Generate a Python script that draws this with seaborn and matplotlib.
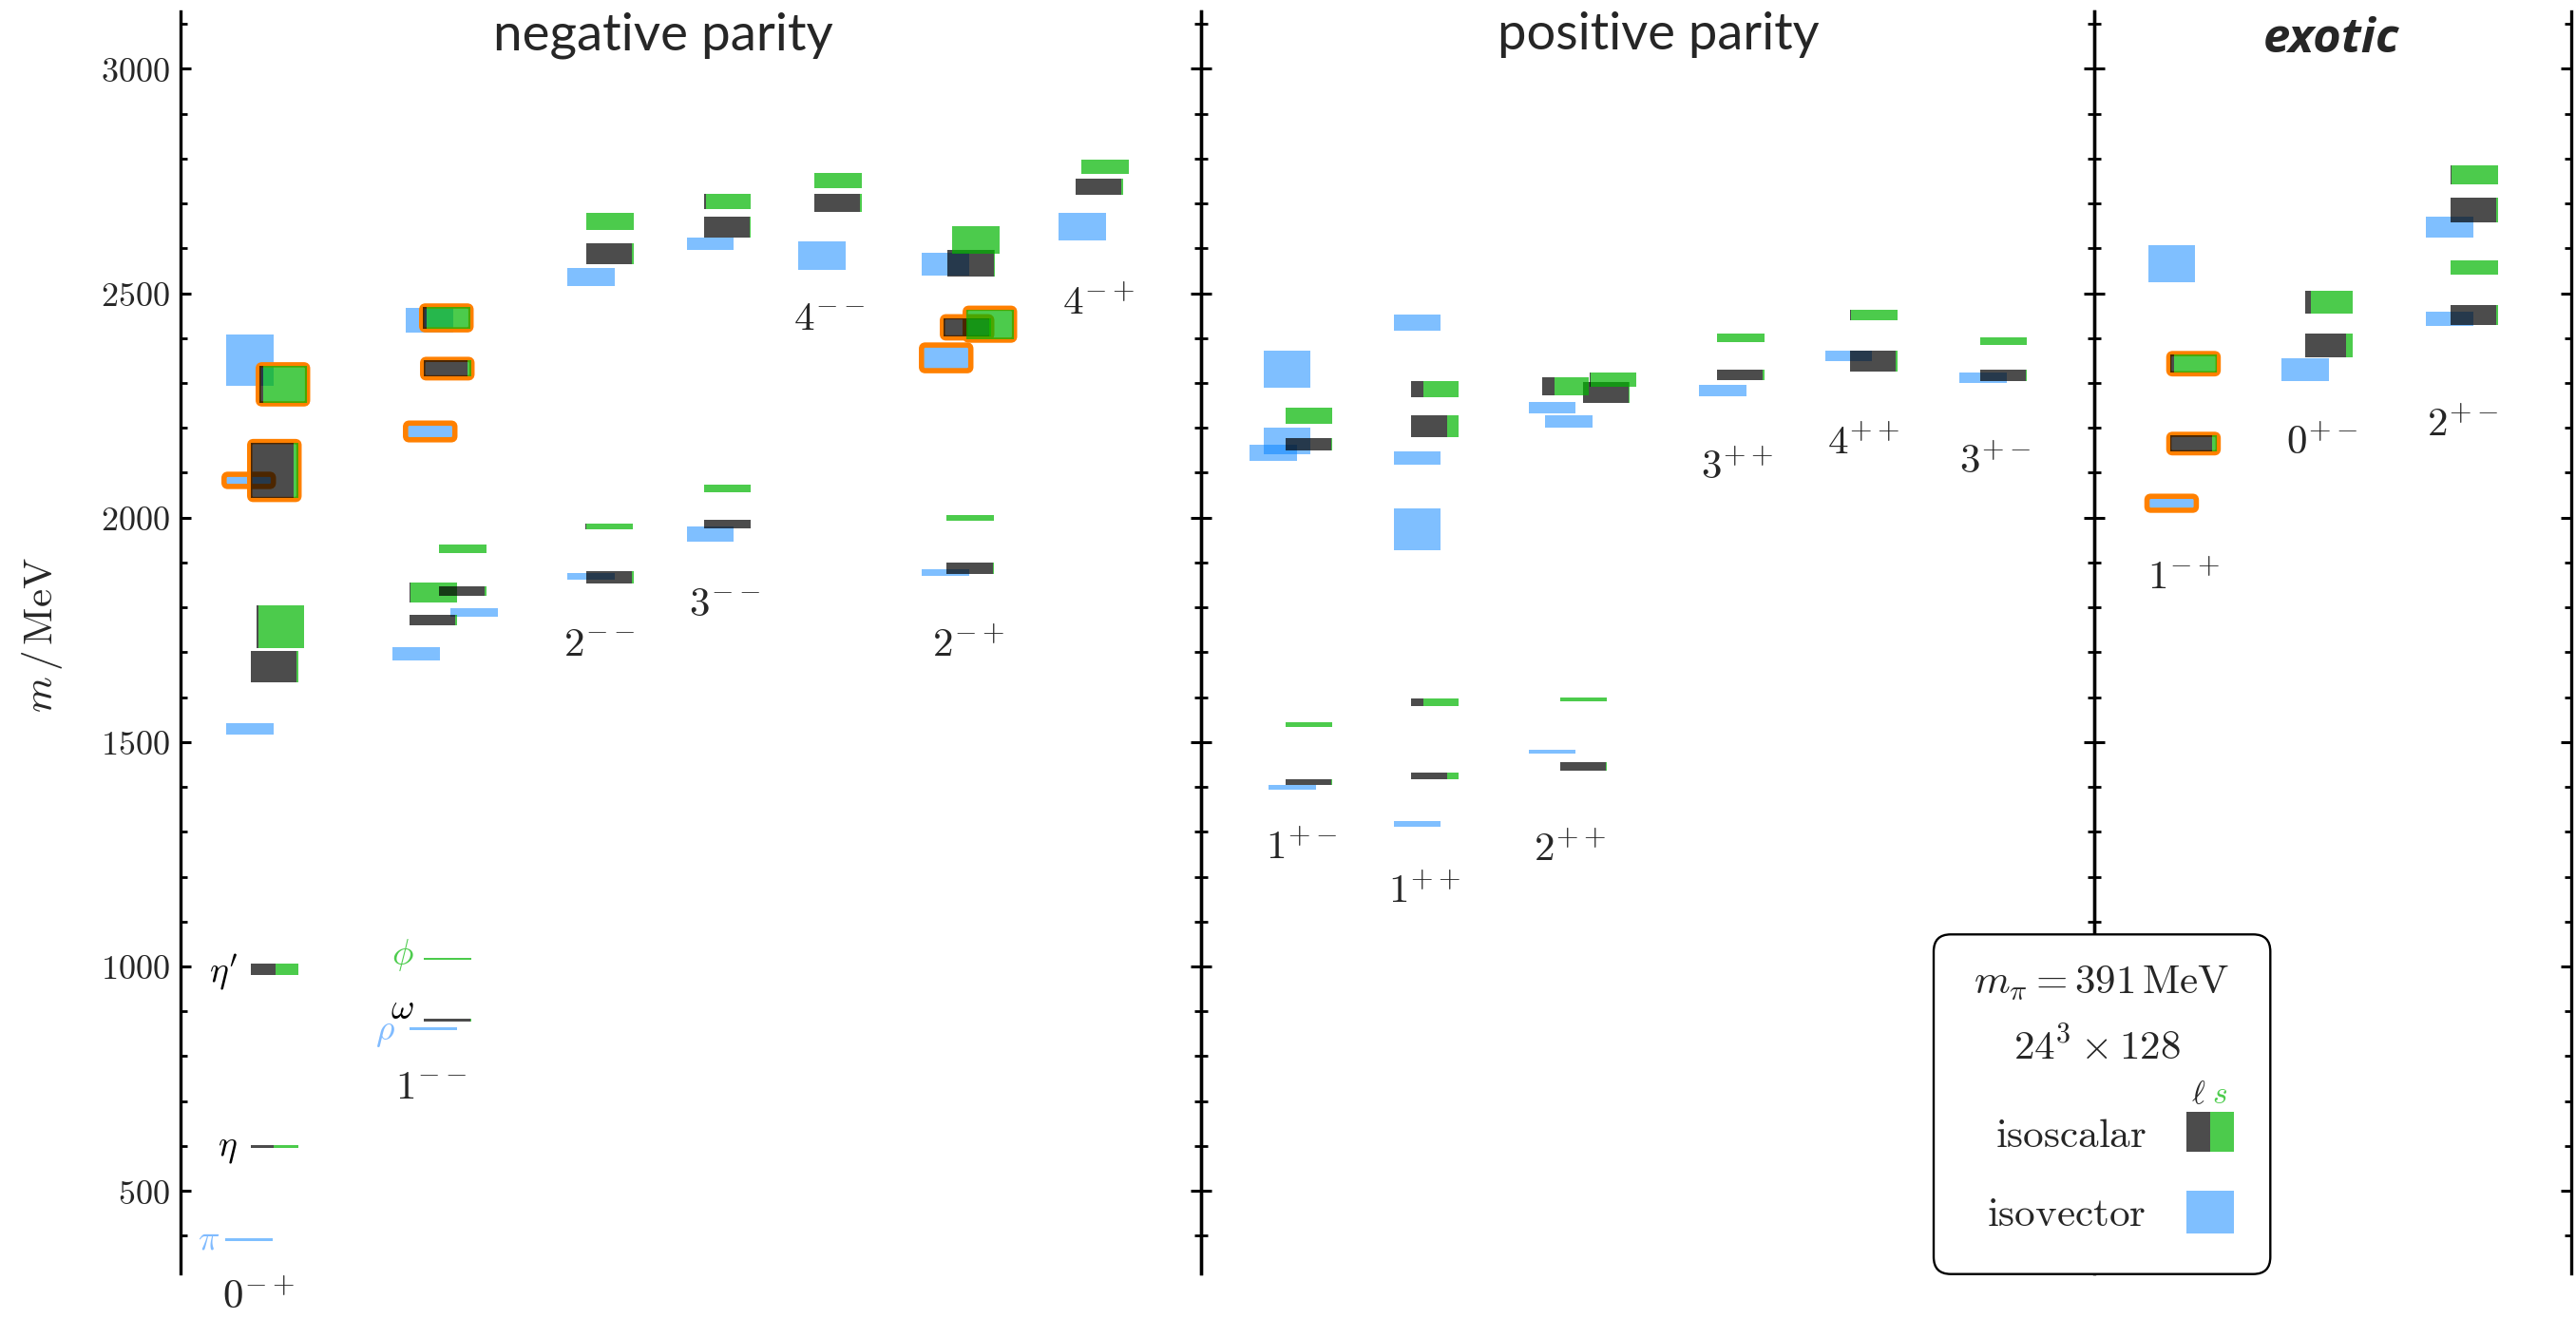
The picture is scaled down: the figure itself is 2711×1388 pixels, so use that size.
import numpy as np
import pandas as pd
import seaborn as sns
import matplotlib
matplotlib.use("Agg")
import matplotlib.pyplot as plt
from matplotlib.patches import Rectangle, FancyBboxPatch
from matplotlib.ticker import MultipleLocator, FuncFormatter

# ---------------- data ----------------
jpc_names = ["0-+", "1--", "2--", "3--", "4--", "2-+", "4-+",
             "1+-", "1++", "2++", "3++", "4++", "3+-",
             "1-+", "0+-", "2+-"]
jpc_tex = [r"$0^{-+}$", r"$1^{--}$", r"$2^{--}$", r"$3^{--}$", r"$4^{--}$", r"$2^{-+}$", r"$4^{-+}$",
           r"$1^{+-}$", r"$1^{++}$", r"$2^{++}$", r"$3^{++}$", r"$4^{++}$", r"$3^{+-}$",
           r"$1^{-+}$", r"$0^{+-}$", r"$2^{+-}$"]
jpc_panel = [0, 0, 0, 0, 0, 0, 0, 1, 1, 1, 1, 1, 1, 2, 2, 2]
panel_titles = ["negative parity", "positive parity", "exotic"]

# isovector states
iv_jpc = ["0-+", "0-+", "0-+", "0-+",
          "1--", "1--", "1--", "1--", "1--",
          "2--", "2--", "3--", "3--", "4--",
          "2-+", "2-+", "2-+", "4-+",
          "1+-", "1+-", "1+-", "1+-",
          "1++", "1++", "1++", "1++",
          "2++", "2++", "2++", "3++", "4++", "3+-",
          "1-+", "1-+", "0+-", "2+-", "2+-"]
iv_mass = [391, 1529, 2083, 2351,
           862, 1697, 1789, 2192, 2440,
           1869, 2536, 1963, 2610, 2584,
           1878, 2356, 2565, 2649,
           1399, 2144, 2171, 2331,
           1318, 1974, 2133, 2435,
           1478, 2215, 2245, 2283, 2361, 2312,
           2032, 2566, 2329, 2443, 2647]
iv_err = [3, 13, 11, 57,
          3, 15, 9, 16, 28,
          7, 21, 17, 14, 31,
          8, 26, 26, 31,
          6, 18, 30, 41,
          6, 47, 15, 18,
          4.5, 14, 13, 12, 12, 11,
          13, 41, 25.5, 15.5, 23.5]
iv_hl = [0, 0, 1, 0,
         0, 0, 0, 1, 0,
         0, 0, 0, 0, 0,
         0, 1, 0, 0,
         0, 0, 0, 0,
         0, 0, 0, 0,
         0, 0, 0, 0, 0, 0,
         1, 0, 0, 0, 0]

# isoscalar states (light = fraction of light-quark content)
is_jpc = ["0-+", "0-+", "0-+", "0-+", "0-+", "0-+",
          "1--", "1--", "1--", "1--", "1--", "1--", "1--", "1--",
          "2--", "2--", "2--", "2--",
          "3--", "3--", "3--", "3--",
          "4--", "4--",
          "2-+", "2-+", "2-+", "2-+", "2-+", "2-+",
          "4-+", "4-+",
          "1+-", "1+-", "1+-", "1+-",
          "1++", "1++", "1++", "1++",
          "2++", "2++", "2++", "2++", "2++",
          "3++", "3++", "4++", "4++", "3+-", "3+-",
          "1-+", "1-+", "0+-", "0+-",
          "2+-", "2+-", "2+-", "2+-"]
is_mass = [598, 993, 1668, 1757, 2105, 2297,
           881, 1017, 1772, 1833, 1836, 1931, 2332, 2445,
           1867, 1980, 2588, 2661,
           1986, 2065, 2647, 2705,
           2702, 2752,
           1887, 1999, 2424, 2431, 2567, 2619,
           2737, 2782,
           1411, 1539, 2164, 2226,
           1424, 1589, 2204, 2287,
           1446, 1595, 2279, 2292, 2307,
           2318, 2401, 2349, 2451, 2317, 2393,
           2165, 2343, 2384, 2480,
           2452, 2558, 2685, 2764]
is_err = [3, 13, 34, 47, 62, 41,
          3, 3, 11, 22, 11, 9, 18, 24,
          13, 7, 23.5, 19,
          9, 8, 23, 17,
          20, 17,
          12, 7, 21, 33, 30, 31,
          18, 16,
          7, 5, 14, 18,
          8, 9, 25, 18,
          10, 5, 23, 20, 16,
          12, 9.5, 23, 12, 12, 9,
          18, 20, 27, 26,
          22, 15.5, 28, 22]
is_light = [0.49, 0.52, 0.967, 0.047, 0.915, 0.086,
            0.99, 0.01, 0.97, 0.02, 0.97, 0.0, 0.93, 0.09,
            0.97, 0.03, 0.97, 0.0,
            1.0, 0.0, 0.97, 0.04,
            0.97, 0.0,
            0.98, 0.0, 0.97, 0.0, 0.98, 0.0,
            0.97, 0.0,
            0.97, 0.0, 0.97, 0.0,
            0.76, 0.25, 0.76, 0.25,
            0.97, 0.0, 0.97, 0.26, 0.03,
            0.97, 0.0, 0.97, 0.02, 0.97, 0.0,
            0.9, 0.09, 0.86, 0.13,
            0.97, 0.0, 0.97, 0.02]
is_hl = [0, 0, 0, 0, 1, 1,
         0, 0, 0, 0, 0, 0, 1, 1,
         0, 0, 0, 0,
         0, 0, 0, 0,
         0, 0,
         0, 0, 1, 1, 0, 0,
         0, 0,
         0, 0, 0, 0,
         0, 0, 0, 0,
         0, 0, 0, 0, 0,
         0, 0, 0, 0, 0, 0,
         1, 1, 0, 0,
         0, 0, 0, 0]

particle_names = [r"$\pi$", r"$\eta$", r"$\eta'$", r"$\rho$", r"$\omega$", r"$\phi$"]
particle_jpc = ["0-+", "0-+", "0-+", "1--", "1--", "1--"]
particle_mass = [391, 596, 986, 853, 905, 1025]
particle_kind = ["iv", "is", "is", "iv", "is", "s"]

# ---------------- layout (pixels of the 2711x1388 canvas) ----------------
W_PX, H_PX, DPI = 2711, 1388, 100
panel_px = [(190, 1264), (1264, 2204), (2204, 2706)]
top_px, bot_px = 12, 1339.5
YLIM = (317, 3128)
MEV_PER_PX = (YLIM[1] - YLIM[0]) / (bot_px - top_px)
BOX_W = 49.5
col_anchor = [74, 256, 427, 550.6, 667, 807, 942.3,
              88.5, 221.4, 377.8, 543.3, 683.3, 819.7,
              79.7, 222, 375]
label_x = [82, 264, 441, 573, 682.7, 828.5, 966,
           105.6, 235, 388, 563.5, 696.5, 836,
           93.5, 240, 387.5]
label_m = [262, 730, 1718, 1807, 2443, 1714, 2476,
           1263, 1167, 1259, 2110, 2165, 2123,
           1864, 2165, 2205]
iv_dx = [-27, -26, -27, -26,
         -15, -33, 28, -18, -19,
         -20, -20, -18, -18, -17,
         -27, -26, -27, -18,
         -17.5, -37.5, -23, -23,
         -18.6, -18.6, -18.6, -18.6,
         -33.3, -15.4, -33.3, -19, -26.6, -21.4,
         -23, -23, -25, -25.7, -25.7]
is_dx = [0, 0, 0, 6, 0, 9,
         0, 0, -15, -15, 16, 16, 0, -1,
         0, -1, 0, 0,
         0, 0, 0, 0,
         0, 0,
         -1, -1, -4, 20, 0, 5,
         0, 6,
         0, 0, 0, 0,
         0, 0, 0, 0,
         0, 0, 24, -19, 31,
         0, 0, 0, 0, 0, 0,
         0, 0, 0, 0,
         0, 0, 0, 0]
particle_xr = [41, 60, 60, 226, 246, 246]

# ---------------- style ----------------
C_DARK = (0, 0, 0)
C_GREEN = (0, 0.71, 0)
C_BLUE = (0, 0.5, 1)
A_DARK, A_GREEN, A_BLUE = 0.7, 0.7, 0.5
C_ORANGE = "#ff8000"
TXT_BLUE = "#80bbff"
TXT_GREEN = "#4dcc4d"

sns.set_theme(style="white")
plt.rcParams["mathtext.fontset"] = "cm"
plt.rcParams["font.family"] = ["DejaVu Sans"]
plt.rcParams["axes.unicode_minus"] = True

iv = pd.DataFrame(dict(jpc=iv_jpc, mass=iv_mass, err=iv_err, hl=iv_hl, dx=iv_dx))
iso = pd.DataFrame(dict(jpc=is_jpc, mass=is_mass, err=is_err, light=is_light, hl=is_hl, dx=is_dx))
iso = iso.sort_values("mass", kind="stable")
col_idx = {n: i for i, n in enumerate(jpc_names)}

fig = plt.figure(figsize=(W_PX / DPI, H_PX / DPI), dpi=DPI)
axes = []
for i, (l, r) in enumerate(panel_px):
    ax = fig.add_axes([l / W_PX, 1 - bot_px / H_PX, (r - l) / W_PX, (bot_px - top_px) / H_PX])
    ax.set_xlim(0, r - l)
    ax.set_ylim(*YLIM)
    ax.set_facecolor("none")
    for s in ["top", "bottom"]:
        ax.spines[s].set_visible(False)
    for s in ["left", "right"]:
        ax.spines[s].set_visible(True)
        ax.spines[s].set_color("black")
        ax.spines[s].set_linewidth(2.4)
    ax.set_xticks([])
    ax.yaxis.set_major_locator(MultipleLocator(500))
    ax.yaxis.set_minor_locator(MultipleLocator(100))
    ax.yaxis.set_major_formatter(FuncFormatter(lambda v, p: f"${int(round(v))}$"))
    ax.tick_params(axis="y", which="both", direction="in", left=True, right=True,
                   labelleft=(i == 0), labelright=False, color="black")
    ax.tick_params(axis="y", which="major", length=8.2, width=2.2, labelsize=26, pad=8)
    ax.tick_params(axis="y", which="minor", length=5, width=2.0)
    axes.append(ax)


def px_pad_box(ax, x, y, w, h, pad, rs, **kw):
    p = FancyBboxPatch((x, y), w, h, boxstyle=f"round,pad={pad},rounding_size={rs}",
                       mutation_aspect=MEV_PER_PX, **kw)
    ax.add_patch(p)


# isovector boxes
for _, r in iv.iterrows():
    c = col_idx[r.jpc]
    ax = axes[jpc_panel[c]]
    x0 = col_anchor[c] + r.dx
    err = max(r.err, 3)
    ax.add_patch(Rectangle((x0, r.mass - err), BOX_W, 2 * err, facecolor=C_BLUE,
                           alpha=A_BLUE, edgecolor="none", zorder=1))
    if r.hl:
        px_pad_box(ax, x0, r.mass - err, BOX_W, 2 * err, 1.2, 4, fill=False,
                   edgecolor=C_ORANGE, linewidth=4.0, zorder=2)

# isoscalar highlight outlines
for _, r in iso.iterrows():
    if r.hl:
        c = col_idx[r.jpc]
        ax = axes[jpc_panel[c]]
        x0 = col_anchor[c] + r.dx
        px_pad_box(ax, x0, r.mass - r.err, BOX_W, 2 * r.err, 1.2, 4, fill=False,
                   edgecolor=C_ORANGE, linewidth=4.0, zorder=2)

# isoscalar boxes (light | strange split)
for _, r in iso.iterrows():
    c = col_idx[r.jpc]
    ax = axes[jpc_panel[c]]
    x0 = col_anchor[c] + r.dx
    err = max(r.err, 3)
    wl = BOX_W * r.light
    if wl > 0:
        ax.add_patch(Rectangle((x0, r.mass - err), wl, 2 * err, facecolor=C_DARK,
                               alpha=A_DARK, edgecolor="none", zorder=3))
    if BOX_W - wl > 0:
        ax.add_patch(Rectangle((x0 + wl, r.mass - err), BOX_W - wl, 2 * err, facecolor=C_GREEN,
                               alpha=A_GREEN, edgecolor="none", zorder=3))

# J^PC labels
for c, name in enumerate(jpc_names):
    ax = axes[jpc_panel[c]]
    ax.text(label_x[c], label_m[c], jpc_tex[c], ha="center", va="center",
            fontsize=31, clip_on=False, zorder=5)

# particle names
kind_color = {"iv": TXT_BLUE, "is": "black", "s": TXT_GREEN}
for nm, jp, m, k, xr in zip(particle_names, particle_jpc, particle_mass, particle_kind, particle_xr):
    ax = axes[jpc_panel[col_idx[jp]]]
    ax.text(xr, m, nm, ha="right", va="center", fontsize=27, color=kind_color[k], zorder=5)

# ---------------- overlay (titles, y label, legend box) ----------------
ov = fig.add_axes([0, 0, 1, 1], zorder=10)
ov.set_xlim(0, W_PX)
ov.set_ylim(H_PX, 0)
ov.axis("off")

fig.canvas.draw()
rend = fig.canvas.get_renderer()


def fit_text(x, y, s, target_w, fs0, **kw):
    t = ov.text(x, y, s, fontsize=fs0, **kw)
    bb = t.get_window_extent(renderer=rend)
    t.set_fontsize(fs0 * target_w / bb.width)
    return t


fit_text(697.5, 52, panel_titles[0], 358, 40, ha="center", va="baseline", family="Lato")
fit_text(1745, 52, panel_titles[1], 338, 40, ha="center", va="baseline", family="Lato")
fit_text(2453, 55, panel_titles[2], 143, 40, ha="center", va="baseline",
         family="Open Sans", fontweight="bold", style="italic")

ov.text(44, 668, r"$m\,/\,\mathrm{MeV}$", rotation=90, ha="center", va="center", fontsize=31)

# legend box
ov.add_patch(FancyBboxPatch((2035, 983.3), 354.3, 357.4, boxstyle="round,pad=0,rounding_size=18",
                            facecolor="white", edgecolor="black", linewidth=1.7, zorder=1))
ov.text(2211.7, 1045, r"$m_\pi = 391\,\mathrm{MeV}$", ha="center", va="baseline", fontsize=31, zorder=2)
ov.text(2207.5, 1115, r"$24^3 \times 128$", ha="center", va="baseline", fontsize=31, zorder=2)
ov.text(2314, 1161, r"$\ell$", ha="center", va="baseline", fontsize=24, zorder=2)
ov.text(2336.5, 1161, r"$s$", ha="center", va="baseline", fontsize=24, color=TXT_GREEN, zorder=2)
ov.text(2180, 1206.7, r"$\mathrm{isoscalar}$", ha="center", va="baseline", fontsize=31, zorder=2)
ov.text(2175, 1290, r"$\mathrm{isovector}$", ha="center", va="baseline", fontsize=31, zorder=2)
ov.add_patch(Rectangle((2301, 1170), 25, 41.7, facecolor=C_DARK, alpha=A_DARK, edgecolor="none", zorder=2))
ov.add_patch(Rectangle((2326, 1170), 24.5, 41.7, facecolor=C_GREEN, alpha=A_GREEN, edgecolor="none", zorder=2))
ov.add_patch(Rectangle((2301, 1252.7), 50, 45, facecolor=C_BLUE, alpha=A_BLUE, edgecolor="none", zorder=2))

fig.savefig("out.png", dpi=DPI)
